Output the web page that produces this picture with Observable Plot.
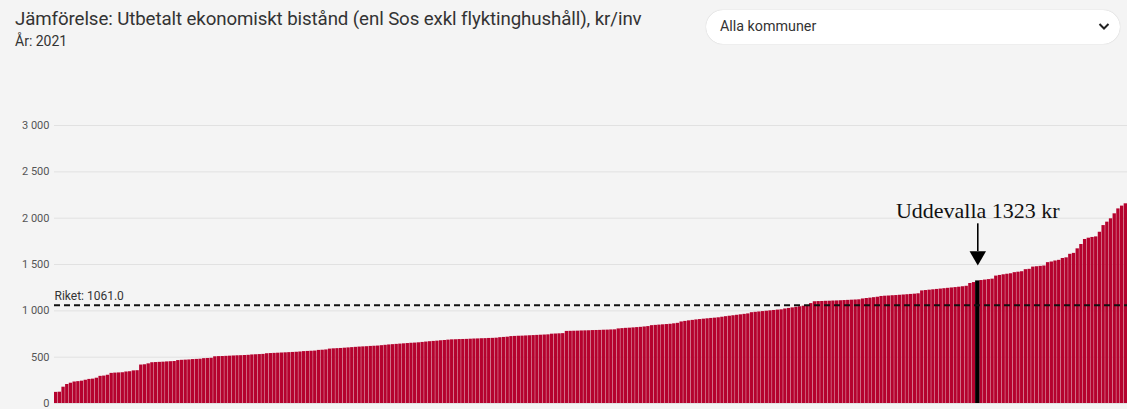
<!DOCTYPE html>
<html>
<head>
<meta charset="utf-8">
<script src="https://cdn.jsdelivr.net/npm/d3@7"></script>
<script src="https://cdn.jsdelivr.net/npm/@observablehq/plot@0.6"></script>
<style>
  html, body { margin: 0; padding: 0; background: #f4f4f4; }
  body { width: 1127px; height: 409px; overflow: hidden; font-family: Roboto, "Noto Sans", sans-serif; }
  #header { position: relative; height: 100px; }
  #title { position: absolute; left: 15px; top: 8px; font-size: 18.7px; color: #333; white-space: nowrap; letter-spacing: -0.1px; }
  #subtitle { position: absolute; left: 15px; top: 33px; font-size: 14px; color: #333; }
  #dropdown { position: absolute; left: 706px; top: 10px; width: 414px; height: 34px; background: #fff;
    border-radius: 17px; box-shadow: 0 0 1px rgba(0,0,0,0.25); }
  #dropdown span { position: absolute; left: 14px; top: 8px; font-size: 14.3px; color: #333; }
  #dropdown svg { position: absolute; right: 10px; top: 12px; }
  #chart svg { display: block; }
</style>
</head>
<body>
<div id="header">
  <div id="title">Jämförelse: Utbetalt ekonomiskt bistånd (enl Sos exkl flyktinghushåll), kr/inv</div>
  <div id="subtitle">År: 2021</div>
  <div id="dropdown"><span>Alla kommuner</span>
    <svg width="12" height="9" viewBox="0 0 12 9"><path d="M1.5 2 L6 6.5 L10.5 2" fill="none" stroke="#222" stroke-width="2"/></svg>
  </div>
</div>
<div id="chart"></div>
<script>
// Sorted municipality values, kr/inv
const values = [
  120, 122, 176, 205, 219, 232, 236, 241, 251, 260,
  263, 273, 293, 296, 305, 325, 328, 330, 332, 340,
  343, 352, 354, 415, 418, 428, 440, 442, 444, 446,
  449, 451, 453, 463, 466, 468, 470, 474, 476, 478,
  484, 486, 488, 504, 506, 507, 509, 511, 513, 515,
  516, 518, 520, 524, 526, 528, 530, 537, 539, 541,
  543, 545, 547, 549, 551, 553, 556, 560, 562, 564,
  566, 573, 575, 578, 587, 590, 592, 594, 597, 600,
  603, 606, 609, 611, 613, 616, 618, 620, 624, 628,
  632, 635, 638, 641, 644, 647, 650, 652, 655, 659,
  663, 667, 670, 673, 677, 680, 684, 687, 688, 690,
  691, 692, 694, 696, 697, 699, 700, 702, 703, 705,
  710, 713, 716, 722, 724, 726, 727, 729, 731, 733,
  735, 737, 739, 741, 748, 750, 752, 754, 778, 779,
  780, 781, 783, 784, 785, 787, 788, 789, 791, 792,
  794, 795, 805, 808, 811, 813, 816, 819, 822, 826,
  830, 840, 843, 846, 849, 852, 855, 860, 865, 880,
  886, 892, 897, 902, 906, 910, 914, 918, 921, 925,
  931, 937, 942, 947, 952, 957, 962, 967, 980, 984,
  988, 992, 996, 1000, 1004, 1008, 1011, 1020, 1026, 1032,
  1038, 1044, 1050, 1056, 1078, 1098, 1100, 1101, 1103, 1104,
  1106, 1107, 1109, 1111, 1113, 1115, 1117, 1119, 1128, 1133,
  1137, 1142, 1147, 1155, 1158, 1160, 1163, 1165, 1168, 1171,
  1174, 1177, 1180, 1184, 1215, 1219, 1223, 1227, 1231, 1235,
  1239, 1243, 1247, 1251, 1255, 1260, 1265, 1295, 1305, 1323,
  1327, 1332, 1337, 1342, 1375, 1382, 1389, 1395, 1400, 1412,
  1417, 1422, 1444, 1448, 1472, 1476, 1480, 1484, 1520, 1527,
  1538, 1545, 1565, 1572, 1610, 1620, 1669, 1716, 1770, 1784,
  1792, 1798, 1848, 1920, 1957, 1993, 2047, 2100, 2130, 2155
];
const highlightName = "Uddevalla";
const highlightRank = 250;
const highlightValue = 1323;
const riket = 1061.0;
const yTicks = [0, 500, 1000, 1500, 2000, 2500, 3000];
// annotation arrow levels (value units)
const arrowTop = 1939, arrowShaftEnd = 1640, arrowTip = 1490, labelBaseline = 2005;

const ranks = values.map((v, i) => i + 1);
const data = values.map((v, i) => ({rank: i + 1, value: v}));
const fmt = d => d3.format(",")(d).replace(/,/g, " ");

const chart = Plot.plot({
  width: 1127,
  height: 309,
  marginLeft: 54,
  marginRight: 0,
  marginTop: 25,
  marginBottom: 6,
  style: {background: "transparent", fontFamily: "Roboto, sans-serif"},
  x: {type: "band", domain: ranks, paddingInner: 0.1, paddingOuter: 0, axis: null},
  y: {domain: [0, 3000], axis: null, label: null},
  marks: [
    Plot.ruleY(yTicks, {stroke: "#e1e1e1", strokeWidth: 1}),
    Plot.axisY({ticks: yTicks, tickSize: 0, tickPadding: 5, tickFormat: fmt, fontSize: 11, fill: "#555", stroke: null, label: null}),
    Plot.barY(data.filter(d => d.rank !== highlightRank), {x: "rank", y: "value", fill: "#b5022e"}),
    Plot.barY(data.filter(d => d.rank === highlightRank), {x: "rank", y: "value", fill: "#000", insetLeft: -0.5, insetRight: -0.5}),
    Plot.ruleY([riket], {stroke: "#111", strokeWidth: 2, strokeDasharray: "6,4"}),
    Plot.text([`Riket: ${riket.toFixed(1)}`], {frameAnchor: "left", y: riket, textAnchor: "start", lineAnchor: "bottom", dy: -5, fontSize: 12, fill: "#333"}),
    Plot.ruleX([highlightRank], {x: d => d, y1: arrowTop, y2: arrowShaftEnd, stroke: "#000", strokeWidth: 1.6}),
    Plot.dot([highlightRank], {x: d => d, y: arrowTip, symbol: "triangle", rotate: 180, r: 6.1, fill: "#000", stroke: null, dy: -9.4}),
    Plot.text([`${highlightName} ${highlightValue} kr`], {x: () => highlightRank, y: labelBaseline, lineAnchor: "bottom", textAnchor: "middle", fontSize: 22, fontFamily: "'Liberation Serif', 'Times New Roman', serif", fill: "#111"})
  ]
});
document.getElementById("chart").appendChild(chart);
</script>
</body>
</html>
